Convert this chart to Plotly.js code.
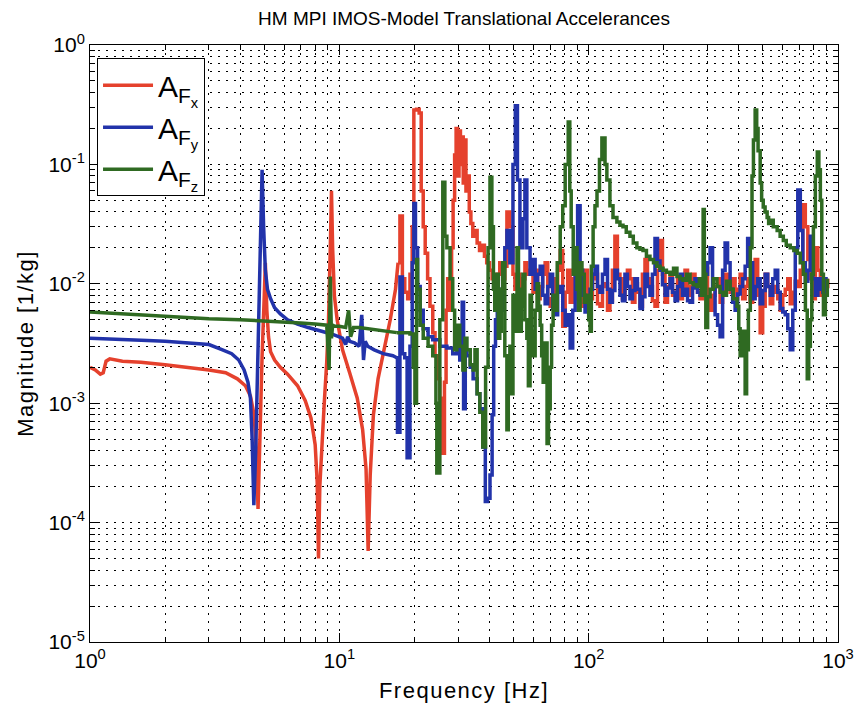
<!DOCTYPE html>
<html>
<head>
<meta charset="utf-8">
<script src="https://cdn.plot.ly/plotly-3.0.1.min.js"></script>
<style>html,body{margin:0;padding:0;background:#fff;}#chart{width:855px;height:715px;}
text.xtitle, text.ytitle{letter-spacing:1.5px;}</style>
</head>
<body>
<div id="chart"></div>
<script>
// ---- Tick labels ----
const xTickVals = [1, 10, 100, 1000];
const xTickText = ['10<sup>0</sup>', '10<sup>1</sup>', '10<sup>2</sup>', '10<sup>3</sup>'];
const yTickVals = [1e-5, 1e-4, 1e-3, 1e-2, 1e-1, 1];
const yTickText = ['10<sup>-5</sup>', '10<sup>-4</sup>', '10<sup>-3</sup>', '10<sup>-2</sup>', '10<sup>-1</sup>', '10<sup>0</sup>'];

// ---- shared frequency grid of the dense (noisy) upper band, Hz ----
const hfFreq = [61.0, 62.4, 63.9, 65.4, 66.9, 68.5, 70.1, 71.7, 73.4, 75.1, 76.9, 78.7, 80.5, 82.4, 84.3, 86.3, 88.3, 90.3, 92.4, 94.6, 96.7, 99.0, 101.3, 103.6, 106.0, 108.5, 111.0, 113.6, 116.3, 119.0, 121.7, 124.5, 127.4, 130.4, 133.5, 136.6, 139.8, 143.0, 146.4, 149.8, 153.3, 156.9, 160.6, 164.3, 168.2, 172.1, 176.1, 180.2, 184.5, 188.8, 193.2, 197.7, 202.4, 207.1, 212.0, 216.9, 222.0, 227.2, 232.5, 237.9, 243.5, 249.2, 255.0, 261.0, 267.0, 273.3, 279.7, 286.2, 293.0, 299.8, 306.9, 314.0, 321.4, 328.9, 336.6, 344.5, 352.5, 360.7, 369.2, 377.8, 386.7, 395.7, 405.0, 414.5, 424.2, 434.1, 444.3, 454.7, 465.3, 476.2, 487.4, 498.8, 510.5, 522.4, 534.7, 547.2, 560.0, 573.1, 586.6, 600.3, 614.4, 628.8, 643.5, 658.6, 674.0, 689.8, 706.0, 722.5, 739.5, 756.8, 774.5, 792.7, 811.2, 830.2, 849.7, 869.6, 890.0, 910.0];

// ---- A_Fx (red) ----
const fxLowFreq = [1.00, 1.05, 1.10, 1.13, 1.16, 1.20, 1.35, 1.6, 2.0, 2.5, 3.0, 3.5, 3.9, 4.2, 4.4, 4.55, 4.65, 4.72, 4.8, 4.9, 5.0, 5.05, 5.12, 5.2, 5.3, 5.5, 5.8, 6.2, 6.8, 7.3, 7.7, 8.0, 8.15, 8.25, 8.35, 8.5, 8.7, 8.9, 9.05, 9.2, 9.3, 9.4, 9.55, 9.8, 10.3, 11.0, 11.8, 12.4, 12.8, 13.05, 13.3, 13.7, 14.3, 15.0, 16.0, 16.8, 17.2];
const fxLowMag = [2.0e-3, 1.9e-3, 1.75e-3, 1.8e-3, 2.25e-3, 2.35e-3, 2.25e-3, 2.2e-3, 2.1e-3, 2.0e-3, 1.9e-3, 1.8e-3, 1.6e-3, 1.4e-3, 1.15e-3, 8e-4, 4e-4, 1.3e-4, 6e-4, 2.5e-3, 8e-3, 1.5e-2, 6e-3, 3.6e-3, 2.7e-3, 2.3e-3, 2.0e-3, 1.75e-3, 1.4e-3, 1.05e-3, 7.5e-4, 4.5e-4, 2.2e-4, 5e-5, 2e-4, 4.5e-4, 1.0e-3, 2.2e-3, 5e-3, 2e-2, 6e-2, 2e-2, 8e-3, 5e-3, 2.8e-3, 1.8e-3, 1.1e-3, 6e-4, 2.8e-4, 5.8e-5, 2.5e-4, 8e-4, 1.6e-3, 2.6e-3, 5e-3, 9e-3, 1.5e-2];
const fxMidFreq = [17.2, 17.5, 17.9, 18.3, 18.8, 19.2, 19.6, 19.9, 20.4, 20.9, 21.3, 21.7, 22.1, 22.6, 23.1, 23.7, 24.2, 24.8, 25.3, 25.7, 26.0, 26.4, 26.8, 27.2, 27.7, 28.2, 28.6, 29.0, 29.4, 29.8, 30.2, 30.6, 31.0, 31.4, 31.8, 32.2, 32.7, 33.2, 33.7, 34.3, 35.0, 35.7, 36.5, 37.3, 38.2, 39.0, 40.0, 41.0, 42.0, 43.0, 44.0, 45.2, 46.1, 47.0, 48.3, 49.7, 50.6, 51.6, 53.0, 54.5, 55.5, 56.5, 58.2, 59.8];
const fxMidMag = [1.5e-2, 3.7e-2, 1.1e-2, 8.5e-3, 7.5e-3, 1.2e-2, 3.0e-2, 0.285, 0.29, 0.27, 6e-2, 3e-2, 1.8e-2, 1.1e-2, 6.5e-3, 3.9e-3, 2.5e-3, 1.6e-3, 1.1e-3, 8e-4, 3.8e-4, 1.5e-3, 6e-3, 1.1e-2, 6e-3, 2e-2, 5e-2, 0.12, 0.2, 8e-2, 0.19, 0.1, 0.17, 7e-2, 0.16, 6e-2, 8e-2, 4e-2, 3.2e-2, 2.5e-2, 2.8e-2, 2.2e-2, 1.9e-2, 2.1e-2, 1.7e-2, 1.5e-2, 1.3e-2, 1.1e-2, 9.5e-3, 1.2e-2, 1.5e-2, 1.1e-2, 1.4e-2, 4e-2, 3e-2, 1.2e-2, 9e-3, 1.2e-2, 8e-3, 1.1e-2, 1.5e-2, 1.2e-2, 1.3e-2, 8.5e-3];
const fxHighMag = [0.013, 0.0075, 0.0095, 0.012, 0.015, 0.0075, 0.0065, 0.011, 0.0085, 0.013,
  0.019, 0.0044, 0.0085, 0.013, 0.007, 0.011, 0.012, 0.0075, 0.01, 0.0065,
  0.013, 0.0085, 0.0075, 0.011, 0.012, 0.0068, 0.0065, 0.0095, 0.01, 0.006,
  0.0072, 0.013, 0.025, 0.012, 0.011, 0.0075, 0.0095, 0.013, 0.011, 0.007,
  0.01, 0.0085, 0.0065, 0.012, 0.016, 0.011, 0.0095, 0.0072, 0.0065, 0.013,
  0.023, 0.012, 0.007, 0.0095, 0.012, 0.008, 0.0085, 0.011, 0.0075, 0.0095,
  0.013, 0.008, 0.0095, 0.012, 0.011, 0.0085, 0.0075, 0.011, 0.0135, 0.0075,
  0.006, 0.008, 0.0095, 0.011, 0.007, 0.009, 0.012, 0.0098, 0.0085, 0.011,
  0.0075, 0.009, 0.012, 0.0075, 0.0095, 0.011, 0.007, 0.0098, 0.016, 0.008,
  0.0039, 0.0065, 0.012, 0.0095, 0.0068, 0.0085, 0.0095, 0.0075, 0.006, 0.008,
  0.009, 0.011, 0.0068, 0.0085, 0.0105, 0.0095, 0.013, 0.046, 0.03, 0.016,
  0.011, 0.0075, 0.02, 0.013, 0.008, 0.011, 0.0095, 0.011];

// ---- A_Fy (blue) ----
const fyLowFreq = [1.0, 1.3, 1.7, 2.0, 2.5, 3.0, 3.4, 3.7, 3.95, 4.15, 4.3, 4.4, 4.47, 4.54, 4.62, 4.7, 4.8, 4.9, 4.97, 5.05, 5.15, 5.3, 5.5, 5.8, 6.2, 6.8, 7.5, 8.6, 9.3, 10.3, 10.6, 10.8, 11.0, 11.5, 12.0, 12.3, 12.5, 12.7, 13.0, 13.8, 15.0, 16.4, 17.0];
const fyLowMag = [3.5e-3, 3.45e-3, 3.35e-3, 3.3e-3, 3.2e-3, 3.1e-3, 2.8e-3, 2.6e-3, 2.3e-3, 1.9e-3, 1.5e-3, 1.1e-3, 5e-4, 1.4e-4, 4e-4, 2e-3, 1e-2, 9e-2, 3e-2, 1.3e-2, 9e-3, 7.5e-3, 6.3e-3, 5.6e-3, 5.0e-3, 4.6e-3, 4.3e-3, 4.0e-3, 3.8e-3, 3.5e-3, 3.1e-3, 3.6e-3, 3.3e-3, 3.2e-3, 3.0e-3, 5.5e-3, 2.3e-3, 3.3e-3, 3.0e-3, 2.8e-3, 2.6e-3, 2.5e-3, 2.4e-3];
const fyMidFreq = [17.0, 17.1, 17.5, 17.9, 18.3, 18.7, 19.2, 19.6, 19.9, 20.2, 20.6, 21.1, 21.7, 22.7, 23.7, 25.3, 27.0, 28.5, 29.6, 30.4, 31.1, 31.5, 32.0, 32.5, 33.5, 34.4, 35.7, 36.6, 37.6, 38.5, 39.3, 40.2, 41.0, 41.6, 42.3, 43.0, 44.0, 45.2, 46.1, 47.0, 48.3, 49.7, 50.8, 51.8, 53.0, 54.5, 55.5, 56.5, 58.2, 59.8];
const fyMidMag = [2.4e-3, 5.7e-4, 1.14e-2, 2.6e-3, 2.4e-3, 3.5e-4, 3.0e-3, 1.5e-2, 4.7e-2, 2.0e-2, 9.5e-3, 6e-3, 4.2e-3, 3.6e-3, 3.4e-3, 3.0e-3, 2.9e-3, 2.6e-3, 3.0e-3, 2.3e-3, 7e-3, 9e-4, 2.8e-3, 2.5e-3, 2.0e-3, 1.6e-3, 1.2e-3, 9e-4, 4.3e-4, 1.5e-4, 1.6e-4, 2.5e-4, 8e-4, 3e-3, 5e-3, 9e-3, 6e-3, 1.4e-2, 2.0e-2, 2.8e-2, 1.5e-2, 0.1, 0.31, 7.4e-2, 2.0e-2, 3.5e-2, 7.4e-2, 2.0e-2, 1.2e-2, 1.6e-2];
const fyHighMag = [0.009, 0.012, 0.014, 0.008, 0.0068, 0.0095, 0.012, 0.0062, 0.0055, 0.0085,
  0.0095, 0.006, 0.0045, 0.0055, 0.0029, 0.006, 0.015, 0.045, 0.013, 0.008,
  0.0058, 0.0072, 0.009, 0.012, 0.014, 0.0095, 0.0085, 0.012, 0.016, 0.009,
  0.007, 0.0088, 0.013, 0.011, 0.008, 0.0072, 0.012, 0.0095, 0.0075, 0.0088,
  0.011, 0.009, 0.0062, 0.0078, 0.012, 0.0095, 0.008, 0.012, 0.024, 0.0155,
  0.013, 0.0098, 0.008, 0.0092, 0.011, 0.0085, 0.0072, 0.0095, 0.012, 0.008,
  0.009, 0.0072, 0.007, 0.0092, 0.011, 0.0085, 0.008, 0.0098, 0.012, 0.015,
  0.02, 0.009, 0.0055, 0.0045, 0.0036, 0.013, 0.022, 0.015, 0.009, 0.007,
  0.006, 0.0082, 0.0095, 0.011, 0.014, 0.024, 0.015, 0.0075, 0.0095, 0.011,
  0.0068, 0.0088, 0.012, 0.0095, 0.008, 0.011, 0.013, 0.0085, 0.0062, 0.0058,
  0.0055, 0.0042, 0.0028, 0.006, 0.02, 0.061, 0.028, 0.015, 0.0105, 0.013,
  0.025, 0.011, 0.008, 0.011, 0.009, 0.0085, 0.011, 0.011];

// ---- A_Fz (green) ----
const fzLowFreq = [1.0, 1.5, 2.0, 3.0, 4.0, 5.0, 6.0, 7.0, 8.0, 8.9, 9.1, 9.2, 9.3, 9.4, 9.6, 10.0, 10.6, 10.9, 11.1, 11.4, 12.0, 13.0, 14.5, 16.0, 17.0];
const fzLowMag = [5.8e-3, 5.5e-3, 5.3e-3, 5.1e-3, 5.0e-3, 4.9e-3, 4.8e-3, 4.7e-3, 4.6e-3, 4.5e-3, 1.9e-3, 1.15e-2, 3.5e-3, 4.5e-3, 4.4e-3, 4.4e-3, 4.3e-3, 6e-3, 3.6e-3, 4.3e-3, 4.3e-3, 4.2e-3, 4.1e-3, 4.0e-3, 3.9e-3];
const fzHighFreq = [17.0, 17.5, 19.2, 19.8, 20.1, 20.4, 20.6, 21.1, 21.7, 22.7, 23.7, 24.4, 24.6, 25.3, 26.0, 26.5, 27.0, 27.8, 28.5, 29.0, 29.6, 30.4, 31.3, 31.9, 32.5, 33.5, 34.4, 35.0, 35.7, 36.6, 37.6, 38.6, 39.5, 40.2, 40.9, 41.5, 42.0, 42.8, 43.4, 44.0, 44.6, 45.2, 46.1, 47.0, 47.6, 48.3, 49.0, 49.7, 50.6, 51.6, 52.3, 53.0, 53.7, 54.5, 55.5, 56.5, 57.3, 58.2, 59.0, 59.8, 61.0, 62.1, 63.0, 63.9, 64.8, 65.7, 66.9, 68.1, 69.0, 70.1, 71.0, 72.0, 73.4, 74.8, 76.9, 78.7, 80.5, 82.8, 84.0, 85.1, 86.7, 88.3, 89.8, 91.0, 92.4, 94.0, 96.0, 98.5, 100.0, 101.3, 102.5, 104.2, 106.0, 108.0, 110.5, 113.0, 116.3, 118.3, 121.7, 125.2, 129.8, 133.5, 137.3, 141.5, 146.4, 151.0, 156.1, 160.6, 165.2, 170.5, 176.1, 182.0, 187.8, 193.2, 198.8, 205.0, 212.0, 219.0, 226.0, 232.5, 239.2, 247.0, 255.0, 263.0, 272.0, 278.0, 283.0, 287.8, 291.0, 295.0, 300.0, 306.9, 316.0, 327.0, 336.6, 346.3, 357.0, 369.2, 380.0, 393.7, 400.0, 405.0, 414.5, 424.2, 430.0, 437.0, 445.0, 452.0, 458.0, 465.3, 472.0, 478.0, 487.4, 494.0, 501.4, 510.0, 519.7, 527.0, 534.7, 550.0, 570.2, 586.0, 603.5, 620.0, 643.5, 665.0, 686.3, 706.0, 726.3, 740.0, 752.8, 763.0, 774.5, 785.0, 796.8, 811.2, 825.9, 838.0, 849.7, 861.0, 874.1, 890.0, 906.0];
const fzHighMag = [3.9e-3, 3.9e-3, 3.8e-3, 2.0e-3, 1.0e-3, 1.6e-2, 9e-3, 4.5e-3, 3.5e-3, 3.0e-3, 2.5e-3, 1.0e-3, 2.6e-4, 5e-3, 7.1e-2, 2.5e-2, 2.0e-2, 1.1e-2, 6e-3, 2.8e-3, 4.5e-3, 3.0e-3, 1.9e-3, 3.5e-3, 2.8e-3, 2.1e-3, 1.9e-3, 2.8e-3, 1.2e-3, 8.4e-4, 4.3e-4, 2.0e-3, 2.0e-2, 7.8e-2, 3.0e-2, 9e-3, 6e-3, 1.2e-2, 3.5e-3, 4e-3, 9e-3, 1.5e-2, 2.5e-3, 6e-4, 1.5e-3, 3e-3, 1.2e-3, 8e-3, 4e-3, 2.0e-2, 9e-3, 4e-3, 6.5e-3, 1.2e-2, 5e-3, 3.5e-3, 1.4e-3, 8e-3, 4e-3, 2.5e-3, 6e-3, 1.0e-2, 6.5e-3, 4.5e-3, 2.5e-3, 1.5e-3, 3.2e-3, 4.6e-4, 9e-4, 2.0e-3, 4.5e-3, 8e-3, 6e-3, 1.5e-2, 3.0e-2, 4.5e-2, 0.1, 0.226, 6e-2, 3.0e-2, 1.2e-2, 2.0e-2, 9e-3, 6e-3, 1.5e-2, 1.2e-2, 7e-3, 8e-3, 5e-3, 4e-3, 1.4e-2, 3.0e-2, 4.5e-2, 6.0e-2, 0.11, 0.166, 0.1, 7.4e-2, 4.5e-2, 3.6e-2, 3.3e-2, 3.1e-2, 3.0e-2, 2.7e-2, 2.5e-2, 2.2e-2, 2.0e-2, 1.95e-2, 1.9e-2, 1.7e-2, 1.6e-2, 1.5e-2, 1.4e-2, 1.35e-2, 1.3e-2, 1.25e-2, 1.2e-2, 1.35e-2, 1.15e-2, 1.1e-2, 1.07e-2, 1.2e-2, 1.02e-2, 9.8e-3, 9.5e-3, 1.1e-2, 8e-3, 4.2e-2, 1.2e-2, 4.3e-3, 7.8e-3, 9e-3, 1.1e-2, 9.5e-3, 8.5e-3, 8e-3, 1.05e-2, 9e-3, 7.5e-3, 6.5e-3, 4.2e-3, 2.5e-3, 4e-3, 1.2e-3, 2.8e-3, 6e-3, 2.0e-2, 8e-2, 0.16, 0.285, 0.2, 0.13, 7e-2, 5e-2, 4.4e-2, 4.0e-2, 3.6e-2, 3.2e-2, 3.4e-2, 3.0e-2, 2.8e-2, 2.5e-2, 2.3e-2, 2.1e-2, 2.0e-2, 1.9e-2, 1.8e-2, 1.5e-2, 1.2e-2, 6e-3, 1.6e-3, 3e-3, 5e-3, 1.2e-2, 3.0e-2, 8e-2, 0.127, 9e-2, 5.0e-2, 1.2e-2, 5.5e-3, 8e-3, 1.1e-2];

const seriesNames = ['A<sub>F<sub>x</sub></sub>', 'A<sub>F<sub>y</sub></sub>', 'A<sub>F<sub>z</sub></sub>'];
const seriesColors = ['#e5412d', '#2233aa', '#2f6a22'];

const FONT = 'Liberation Sans, Arial, Helvetica, sans-serif';

function decadeMinors(lo, hi) {
  const out = [];
  for (let e = lo; e < hi; e++) for (let k = 2; k <= 9; k++) out.push(k * Math.pow(10, e));
  return out;
}

const groups = [
  [fxLowFreq, fxLowMag, fxMidFreq.concat(hfFreq), fxMidMag.concat(fxHighMag)],
  [fyLowFreq, fyLowMag, fyMidFreq.concat(hfFreq), fyMidMag.concat(fyHighMag)],
  [fzLowFreq, fzLowMag, fzHighFreq, fzHighMag]
];
const traces = [];
groups.forEach((g, i) => {
  traces.push({x: g[0], y: g[1], type: 'scatter', mode: 'lines', name: seriesNames[i], legendgroup: 'g' + i,
    line: {color: seriesColors[i], width: 3.5, shape: 'linear'}, hoverinfo: 'skip'});
  traces.push({x: g[2], y: g[3], type: 'scatter', mode: 'lines', name: seriesNames[i], legendgroup: 'g' + i, showlegend: false,
    line: {color: seriesColors[i], width: 3.5, shape: 'hv'}, hoverinfo: 'skip'});
});

const gridStyle = {gridcolor: '#000', griddash: '2px,6px', gridwidth: 1};

const layout = {
  width: 855, height: 715,
  margin: {l: 90, r: 17, t: 45, b: 73},
  paper_bgcolor: '#fff', plot_bgcolor: '#fff',
  font: {family: FONT, color: '#000'},
  showlegend: true,
  title: {text: 'HM MPI IMOS-Model Translational Accelerances', font: {size: 19, family: FONT, color: '#000'},
    xref: 'paper', x: 0.5, xanchor: 'center', yref: 'container', y: 0.975, yanchor: 'middle'},
  xaxis: Object.assign({
    type: 'log', range: [0, 3], tickmode: 'array', tickvals: xTickVals, ticktext: xTickText,
    ticks: 'inside', ticklen: 9, tickwidth: 1, tickcolor: '#000',
    showline: true, linecolor: '#000', linewidth: 1, mirror: 'ticks',
    showgrid: true, zeroline: false,
    tickfont: {size: 21, family: FONT},
    title: {text: 'Frequency [Hz]', font: {size: 22, family: FONT}, standoff: 11},
    minor: Object.assign({tickmode: 'array', tickvals: decadeMinors(0, 3), ticks: 'inside', ticklen: 5, tickcolor: '#000', showgrid: true}, gridStyle)
  }, gridStyle),
  yaxis: Object.assign({
    type: 'log', range: [-5, 0], tickmode: 'array', tickvals: yTickVals, ticktext: yTickText,
    ticks: 'inside', ticklen: 9, tickwidth: 1, tickcolor: '#000',
    showline: true, linecolor: '#000', linewidth: 1, mirror: 'ticks',
    showgrid: true, zeroline: false,
    tickfont: {size: 21, family: FONT},
    title: {text: 'Magnitude [1/kg]', font: {size: 22, family: FONT}, standoff: 8},
    minor: Object.assign({tickmode: 'array', tickvals: decadeMinors(-5, 0), ticks: 'inside', ticklen: 5, tickcolor: '#000', showgrid: true}, gridStyle)
  }, gridStyle),
  legend: {x: 0.0094, y: 0.978, xanchor: 'left', yanchor: 'top', bgcolor: '#fff', bordercolor: '#000', borderwidth: 1,
    font: {size: 30, family: FONT, color: '#000'}, itemwidth: 50, traceorder: 'grouped', tracegroupgap: 0}
};

Plotly.newPlot('chart', traces, layout, {staticPlot: true, displayModeBar: false});
</script>
</body>
</html>
